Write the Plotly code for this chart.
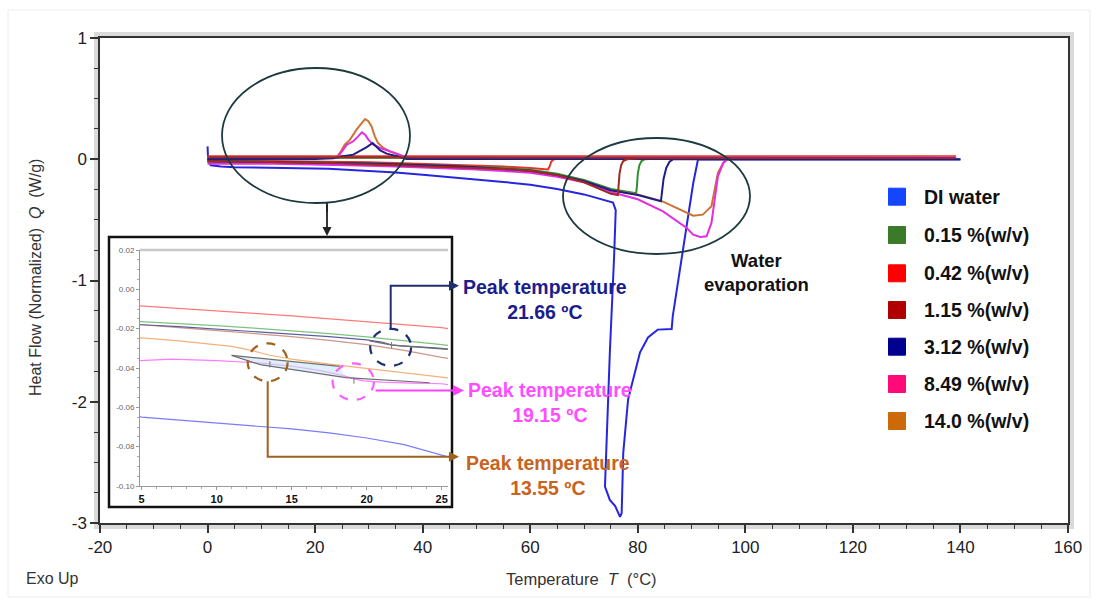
import numpy as np
import plotly.graph_objects as go

FONT = "Liberation Sans, Arial, sans-serif"

# ---------------- data ----------------
names = ["DI water", "0.15 %(w/v)", "0.42 %(w/v)", "1.15 %(w/v)",
         "3.12 %(w/v)", "8.49 %(w/v)", "14.0 %(w/v)"]

# heating scans: temperature (°C) / heat flow (W/g)
di_heat_x = [0, 0.1, 0.6, 2.5, 5, 7.5, 10, 12.5, 15, 17.5, 20, 22.5, 25, 30, 35, 40, 45, 50, 55, 60,
             65, 70, 73, 75.4, 75.9, 75.6, 74.8, 74.2, 73.9, 74.8, 75.8, 76.7, 77.0, 77.3, 78.2, 80.4,
             81.9, 83.7, 86.3, 86.5, 87.8, 88.5, 89.4, 90.3, 91.2, 93, 110, 125, 140]
di_heat_y = [0.106, 0.0, -0.05, -0.06, -0.065, -0.0665, -0.068, -0.0695, -0.071, -0.073, -0.0756,
             -0.079, -0.0841, -0.095, -0.11, -0.127, -0.145, -0.165, -0.187, -0.21, -0.245, -0.29,
             -0.325, -0.358, -0.42, -0.80, -1.60, -2.42, -2.70, -2.81, -2.86, -2.95, -2.92, -2.42,
             -1.98, -1.595, -1.47, -1.405, -1.40, -1.296, -0.91, -0.70, -0.45, -0.20, 0.0, -0.003,
             -0.003, -0.003, -0.003]

g015_heat_x = [0, 2.5, 5, 7.5, 10, 12.5, 15, 17.5, 20, 22.5, 25, 30, 35, 40, 45, 50, 55, 60, 65, 70,
               75, 78, 79.7, 79.85, 80.0, 80.3, 80.7, 81.3, 83, 100, 120, 139]
g015_heat_y = [-0.0145, -0.0155, -0.0163, -0.0174, -0.0185, -0.0197, -0.021, -0.0225, -0.0242,
               -0.026, -0.0281, -0.033, -0.039, -0.046, -0.054, -0.063, -0.073, -0.086, -0.12, -0.17,
               -0.245, -0.27, -0.28, -0.22, -0.12, -0.05, -0.015, 0.0, 0.004, 0.004, 0.004, 0.004]
g015_cool_x = [139, 100, 60, 30, 0]
g015_cool_y = [0.012, 0.012, 0.012, 0.012, 0.012]

r042_heat_x = [0, 2.5, 5, 7.5, 10, 12.5, 15, 17.5, 20, 22.5, 25, 30, 35, 40, 45, 50, 55, 60, 63.3,
               63.6, 63.9, 64.3, 65, 70, 90, 110, 139]
r042_heat_y = [-0.006, -0.0072, -0.0083, -0.0096, -0.011, -0.0122, -0.0135, -0.015, -0.0166, -0.018,
               -0.0195, -0.025, -0.03, -0.036, -0.043, -0.051, -0.06, -0.072, -0.085, -0.06, -0.02,
               -0.002, 0.004, 0.005, 0.005, 0.005, 0.005]
r042_cool_x = [139, 100, 60, 30, 0]
r042_cool_y = [0.024, 0.024, 0.024, 0.024, 0.024]

b115_heat_x = [0, 2.5, 5, 7.5, 10, 12.5, 15, 17.5, 20, 22.5, 25, 30, 35, 40, 45, 50, 55, 60, 65, 70,
               75, 76.3, 76.45, 76.6, 76.9, 77.3, 78, 80, 100, 120, 139]
b115_heat_y = [-0.0165, -0.0172, -0.018, -0.0195, -0.021, -0.0225, -0.024, -0.026, -0.0281, -0.031,
               -0.0346, -0.04, -0.046, -0.053, -0.061, -0.07, -0.081, -0.095, -0.13, -0.19, -0.285,
               -0.295, -0.22, -0.12, -0.05, -0.015, 0.0, 0.008, 0.01, 0.01, 0.01]
b115_cool_x = [139, 100, 60, 30, 0]
b115_cool_y = [0.016, 0.016, 0.016, 0.016, 0.016]

n312_heat_x = [0, 2.5, 5, 7.5, 10, 12.5, 15, 17.5, 20, 21, 21.66, 22.3, 23.5, 25, 30, 35, 40, 45, 50,
               55, 60, 65, 70, 75, 80, 84.3, 84.5, 84.8, 85.3, 85.9, 86.6, 88, 100, 120, 140]
n312_heat_y = [-0.0165, -0.0172, -0.018, -0.019, -0.0202, -0.0213, -0.0225, -0.024, -0.0257, -0.0268,
               -0.0282, -0.0288, -0.0293, -0.030, -0.035, -0.041, -0.048, -0.056, -0.066, -0.078,
               -0.095, -0.13, -0.18, -0.255, -0.295, -0.347, -0.28, -0.16, -0.07, -0.02, 0.0, 0.0,
               0.0, 0.0, 0.0]
n312_cool_x = [140, 100, 60, 40, 37.0, 35.2, 33.3, 32.1, 31.3, 30.7, 29.6, 28.3, 27.1, 25.2, 23.4,
               20, 10, 0]
n312_cool_y = [0.003, 0.003, 0.003, 0.003, 0.003, 0.024, 0.046, 0.073, 0.112, 0.134, 0.10, 0.065,
               0.038, 0.024, 0.008, 0.003, 0.003, 0.003]

m849_heat_x = [0, 2.5, 5, 7, 10, 13, 15, 17, 18.5, 19.15, 19.8, 21, 23, 25, 30, 35, 40, 45, 50, 55,
               60, 65, 70, 75, 80, 84.7, 89.1, 90.3, 91.6, 92.8, 93.7, 94.3, 94.9, 95.9, 96.5, 98,
               110, 125, 139]
m849_heat_y = [-0.038, -0.037, -0.0363, -0.0355, -0.0362, -0.0375, -0.039, -0.0415, -0.044, -0.0455,
               -0.0465, -0.0472, -0.0477, -0.048, -0.053, -0.059, -0.066, -0.075, -0.085, -0.097,
               -0.112, -0.145, -0.19, -0.27, -0.33, -0.43, -0.567, -0.622, -0.641, -0.636, -0.525,
               -0.333, -0.141, -0.03, 0.0, 0.008, 0.008, 0.008, 0.008]
m849_cool_x = [139, 100, 60, 40, 37.0, 35.2, 33.3, 32.1, 30.8, 29.9, 29.3, 28.7, 28.0, 27.1, 25.9,
               24.9, 24.2, 20, 10, 0]
m849_cool_y = [0.017, 0.017, 0.017, 0.017, 0.015, 0.046, 0.073, 0.093, 0.12, 0.162, 0.203, 0.222,
               0.189, 0.148, 0.12, 0.065, 0.017, 0.017, 0.017, 0.017]

o140_heat_x = [0, 2.5, 5, 7.5, 10, 11, 12, 13, 13.55, 14.5, 15, 17.5, 20, 22.5, 25, 30, 35, 40, 45,
               50, 55, 60, 65, 70, 75, 80, 84.6, 89.1, 90.3, 92.1, 93.7, 94.3, 94.9, 95.9, 96.8, 98,
               110, 125, 139]
o140_heat_y = [-0.0235, -0.024, -0.0247, -0.0262, -0.028, -0.029, -0.0305, -0.0325, -0.0335, -0.0348,
               -0.0355, -0.038, -0.040, -0.0422, -0.0441, -0.049, -0.055, -0.062, -0.07, -0.079,
               -0.089, -0.10, -0.135, -0.18, -0.255, -0.29, -0.347, -0.443, -0.465, -0.457, -0.388,
               -0.25, -0.113, -0.03, 0.0, 0.01, 0.01, 0.01, 0.01]
o140_cool_x = [139, 100, 60, 40, 37.0, 35.5, 33.9, 32.7, 31.7, 31.1, 30.5, 29.9, 29.3, 28.7, 27.7,
               26.5, 25.5, 24.6, 24.0, 20, 10, 0]
o140_cool_y = [0.02, 0.02, 0.02, 0.02, 0.015, 0.038, 0.065, 0.093, 0.134, 0.189, 0.271, 0.313, 0.332,
               0.30, 0.244, 0.162, 0.12, 0.052, 0.02, 0.02, 0.02, 0.02]

# inset analysis marks (peak integration baselines)
base_up_x = [11.0, 18.2]
base_up_y = [-0.0336, -0.0392]
base_lo_x = [11.0, 12.9, 18.6, 24.2]
base_lo_y = [-0.0336, -0.0383, -0.0449, -0.0475]
base_n_x = [20.2, 21.7, 25.4]
base_n_y = [-0.0262, -0.0284, -0.0305]
peak_T = [13.55, 19.15, 21.66]
peak_lo = [-0.0397, -0.0480, -0.0300]
peak_hi = [-0.0365, -0.0447, -0.0268]

# tick labels
x_ticks = [-20, 0, 20, 40, 60, 80, 100, 120, 140, 160]
x_ticktext = ["-20", "0", "20", "40", "60", "80", "100", "120", "140", "160"]
y_ticks = [1, 0, -1, -2, -3]
y_ticktext = ["1", "0", "-1", "-2", "-3"]
ix_ticks = [5, 10, 15, 20, 25]
ix_ticktext = ["5", "10", "15", "20", "25"]
iy_ticks = [0.02, 0.0, -0.02, -0.04, -0.06, -0.08, -0.10]
iy_ticktext = ["0.02", "0.00", "-0.02", "-0.04", "-0.06", "-0.08", "-0.10"]

# ---------------- styles ----------------
main_colors = ["#2626e0", "#2f8f2f", "#e83232", "#9e2a22", "#1e1e86", "#e22ee2", "#cc7433"]
legend_colors = ["#1446ff", "#3a7a28", "#ff0000", "#b00000", "#00008f", "#ff0a78", "#cc6a0a"]
inset_colors = ["#7a7aff", "#7cc47c", "#ff7b7b", "#cf958a", "#5c5ca0", "#ff7bff", "#f5b07a"]

heat = [(di_heat_x, di_heat_y), (g015_heat_x, g015_heat_y), (r042_heat_x, r042_heat_y),
        (b115_heat_x, b115_heat_y), (n312_heat_x, n312_heat_y), (m849_heat_x, m849_heat_y),
        (o140_heat_x, o140_heat_y)]
cool = [([], []), (g015_cool_x, g015_cool_y), (r042_cool_x, r042_cool_y),
        (b115_cool_x, b115_cool_y), (n312_cool_x, n312_cool_y), (m849_cool_x, m849_cool_y),
        (o140_cool_x, o140_cool_y)]

fig = go.Figure()

draw_order = [0, 2, 1, 6, 5, 4, 3]
for i in draw_order:
    hx, hy = heat[i]
    cx, cy = cool[i]
    fig.add_trace(go.Scatter(x=list(hx) + list(cx), y=list(hy) + list(cy), mode="lines",
                             line=dict(color=main_colors[i], width=2), name=names[i],
                             showlegend=False, hoverinfo="skip", xaxis="x", yaxis="y"))

# inset traces
for i in [0, 2, 1, 3, 6, 5, 4]:
    hx, hy = heat[i]
    fig.add_trace(go.Scatter(x=hx, y=hy, mode="lines", line=dict(color=inset_colors[i], width=1.2),
                             showlegend=False, hoverinfo="skip", xaxis="x2", yaxis="y2"))

fig.add_trace(go.Scatter(x=base_up_x + base_lo_x[::-1][1:-1] + [base_up_x[0]],
                         y=base_up_y + base_lo_y[::-1][1:-1] + [base_up_y[0]],
                         mode="lines", fill="toself", fillcolor="rgba(195,228,245,0.55)",
                         line=dict(width=0), showlegend=False, hoverinfo="skip",
                         xaxis="x2", yaxis="y2"))
for bx, by in [(base_up_x, base_up_y), (base_lo_x, base_lo_y), (base_n_x, base_n_y)]:
    fig.add_trace(go.Scatter(x=bx, y=by, mode="lines", line=dict(color="#6e6e6e", width=1.2),
                             showlegend=False, hoverinfo="skip", xaxis="x2", yaxis="y2"))
for t, lo, hi in zip(peak_T, peak_lo, peak_hi):
    fig.add_trace(go.Scatter(x=[t, t], y=[lo, hi], mode="lines", line=dict(color="#777", width=1),
                             showlegend=False, hoverinfo="skip", xaxis="x2", yaxis="y2"))

# legend (pixel overlay axes)
leg_y = [196.7, 235, 273.3, 310, 346.7, 384, 421]
fig.add_trace(go.Scatter(x=[897] * 7, y=leg_y, mode="markers",
                         marker=dict(symbol="square", size=17, color=legend_colors,
                                     line=dict(width=1, color=legend_colors)),
                         showlegend=False, hoverinfo="skip", xaxis="x3", yaxis="y3"))

annotations = []
for name, yy in zip(names, leg_y):
    annotations.append(dict(x=922, y=yy, xref="x3", yref="y3", text=name, showarrow=False,
                            xanchor="left", yanchor="middle",
                            font=dict(family=FONT, size=19.5, color="#111", weight="bold")))

def txt(x, y, s, color, size=19.5):
    return dict(x=x, y=y, xref="x3", yref="y3", text=s, showarrow=False, xanchor="center",
                yanchor="middle", font=dict(family=FONT, size=size, color=color, weight="bold"))

annotations += [
    txt(545, 299, "Peak temperature<br>21.66 ºC", "#1c1c8c"),
    txt(550, 402, "Peak temperature<br>19.15 ºC", "#ff4dff"),
    txt(548, 475, "Peak temperature<br>13.55 ºC", "#c8641e"),
    txt(756, 272, "Water<br>evaporation", "#111", 18.5),
]

def arrow(x, y, ax, ay, color, w=2):
    return dict(x=x, y=y, xref="x3", yref="y3", ax=ax, ay=ay, text="", showarrow=True,
                arrowhead=2, arrowsize=1, arrowwidth=w, arrowcolor=color, standoff=0)

annotations += [
    arrow(459, 285.7, -12, 0, "#1f2f72"),
    arrow(464, 390.5, -90, 0, "#ff40ff", 2.2),
    arrow(459, 456.7, -12, 0, "#a0601e"),
    arrow(327, 236, 0, -33, "#222", 1.8),
]

annotations += [
    dict(x=(581 - 100) / 968, y=(523 - 579) / 485, xref="paper", yref="paper",
         text="Temperature  <i>T</i>  (°C)", showarrow=False, xanchor="center", yanchor="middle",
         font=dict(family=FONT, size=16.5, color="#333")),
    dict(x=(35 - 100) / 968, y=(523 - 278) / 485, xref="paper", yref="paper",
         text="Heat Flow (Normalized)  <i>Q</i>  (W/g)", showarrow=False, textangle=-90,
         xanchor="center", yanchor="middle", font=dict(family=FONT, size=16, color="#333")),
    dict(x=(52 - 100) / 968, y=(523 - 578) / 485, xref="paper", yref="paper",
         text="Exo Up", showarrow=False, xanchor="center", yanchor="middle",
         font=dict(family=FONT, size=16, color="#333")),
]

shapes = [
    dict(type="rect", xref="paper", yref="paper", x0=-3 / 968, x1=1 + 3 / 968, y0=-3 / 485,
         y1=1 + 3 / 485, line=dict(color="#dadada", width=6), layer="below"),
    dict(type="rect", xref="paper", yref="paper", x0=(8 - 100) / 968, x1=(1090 - 100) / 968,
         y0=(523 - 597) / 485, y1=(523 - 10) / 485, line=dict(color="#ececec", width=1),
         layer="below"),
    # inset frame
    dict(type="rect", xref="x3", yref="y3", x0=109, x1=452, y0=237, y1=507,
         line=dict(color="#111", width=2.5), layer="above"),
    dict(type="line", xref="x3", yref="y3", x0=140, x1=448, y0=250, y1=250,
         line=dict(color="#c8c8c8", width=2.5)),
    # ellipses
    dict(type="circle", xref="x3", yref="y3", x0=222, x1=410, y0=68, y1=203,
         line=dict(color="#1d3a3e", width=1.8)),
    dict(type="circle", xref="x3", yref="y3", x0=563, x1=750, y0=138, y1=254,
         line=dict(color="#1d3a3e", width=1.8)),
    # dashed circles
    dict(type="circle", xref="x3", yref="y3", x0=247.7, x1=287.7, y0=343.3, y1=381.3,
         line=dict(color="#a0601e", width=2.2, dash="dash")),
    dict(type="circle", xref="x3", yref="y3", x0=370.2, x1=411.2, y0=328.8, y1=365.8,
         line=dict(color="#1f2f72", width=2.2, dash="dash")),
    dict(type="circle", xref="x3", yref="y3", x0=332.6, x1=374.0, y0=363.4, y1=400.0,
         line=dict(color="#ff5cff", width=2.2, dash="dash")),
    # arrow bodies
    dict(type="path", xref="x3", yref="y3", path="M390.7,328.8 L390.7,285.7 L450,285.7",
         line=dict(color="#1f2f72", width=2)),
    dict(type="path", xref="x3", yref="y3", path="M267.7,381.3 L267.7,456.7 L450,456.7",
         line=dict(color="#a0601e", width=2)),
    dict(type="line", xref="x3", yref="y3", x0=327, x1=327, y0=203, y1=212,
         line=dict(color="#222", width=1.8)),
]

axis_common = dict(showgrid=False, zeroline=False, showline=True, linecolor="#333", linewidth=1.5,
                   ticks="outside", tickcolor="#333", tickwidth=1.5, ticklen=8,
                   tickfont=dict(family=FONT, size=17, color="#222"))

fig.update_layout(
    width=1098, height=603,
    margin=dict(l=100, r=30, t=38, b=80),
    paper_bgcolor="white", plot_bgcolor="white",
    font=dict(family=FONT),
    showlegend=False,
    xaxis=dict(range=[-20, 160], tickmode="array", tickvals=x_ticks, ticktext=x_ticktext,
               mirror=True, domain=[0, 1], anchor="y",
               minor=dict(tickmode="array", tickvals=list(np.arange(-15, 160, 5)), ticks="outside",
                          ticklen=4, tickcolor="#333", tickwidth=1.2),
               **axis_common),
    yaxis=dict(range=[-3, 1], tickmode="array", tickvals=y_ticks, ticktext=y_ticktext,
               mirror=True, domain=[0, 1], anchor="x",
               minor=dict(tickmode="array", tickvals=list(np.arange(-2.75, 1, 0.25)),
                          ticks="outside", ticklen=4, tickcolor="#333", tickwidth=1.2),
               **axis_common),
    xaxis2=dict(domain=[(140 - 100) / 968, (448 - 100) / 968], anchor="y2", range=[4.89, 25.42],
                tickmode="array", tickvals=ix_ticks, ticktext=ix_ticktext, showgrid=False,
                zeroline=False, showline=True, linecolor="#999", linewidth=1, ticks="outside",
                ticklen=3, tickcolor="#999",
                tickfont=dict(family=FONT, size=11, color="#111", weight="bold"),
                minor=dict(tickmode="array", tickvals=list(np.arange(6, 26, 1)), ticks="outside",
                           ticklen=2, tickcolor="#aaa")),
    yaxis2=dict(domain=[(523 - 486) / 485, (523 - 250) / 485], anchor="x2", range=[-0.10, 0.02],
                tickmode="array", tickvals=iy_ticks, ticktext=iy_ticktext, showgrid=False,
                zeroline=False, showline=True, linecolor="#999", linewidth=1, ticks="outside",
                ticklen=3, tickcolor="#999", tickfont=dict(family=FONT, size=8, color="#666"),
                minor=dict(tickmode="array", tickvals=list(np.arange(-0.095, 0.02, 0.005)),
                           ticks="outside", ticklen=2, tickcolor="#aaa")),
    xaxis3=dict(overlaying="x", anchor="y3", range=[100, 1068], visible=False),
    yaxis3=dict(overlaying="y", anchor="x3", range=[523, 38], visible=False),
    shapes=shapes,
    annotations=annotations,
)

fig.write_html("out.html")
